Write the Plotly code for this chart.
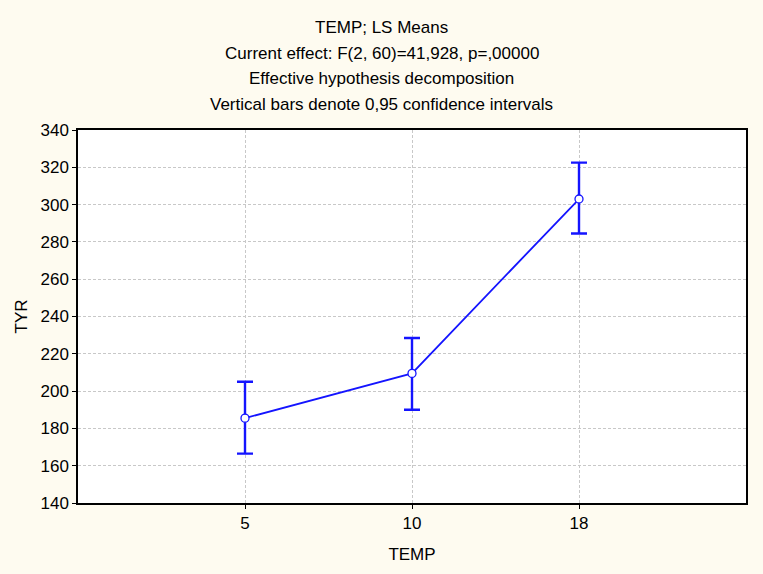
import plotly.graph_objects as go

categories = ["5", "10", "18"]
means = [185.5, 209.5, 303.0]
upper = [205.0, 228.5, 322.5]
lower = [166.5, 190.0, 284.5]
title_lines = [
    "TEMP; LS Means",
    "Current effect: F(2, 60)=41,928, p=,00000",
    "Effective hypothesis decomposition",
    "Vertical bars denote 0,95 confidence intervals",
]
y_ticks = [140, 160, 180, 200, 220, 240, 260, 280, 300, 320, 340]

xpos = list(range(1, len(categories) + 1))
err_plus = [u - m for u, m in zip(upper, means)]
err_minus = [m - l for m, l in zip(means, lower)]

blue = "#1414FF"
fig = go.Figure()
fig.add_trace(go.Scatter(
    x=xpos, y=means, mode="lines+markers",
    line=dict(color=blue, width=1.8),
    marker=dict(symbol="circle", size=8, color="white", line=dict(color=blue, width=1.3)),
    error_y=dict(type="data", symmetric=False, array=err_plus, arrayminus=err_minus,
                 color=blue, thickness=2.4, width=8),
    showlegend=False,
))

font = dict(family="Liberation Sans, Arial, sans-serif", size=17, color="#000000")
W, H = 763, 574
pl, pr, pt, pb = 78, 17, 130, 71
pw = W - pl - pr
ph = H - pt - pb
annotations = []
ys = [27, 53, 79, 105]
for txt, yy in zip(title_lines, ys):
    annotations.append(dict(text=txt, x=(W / 2 - pl) / pw, xref="paper",
                            y=(H - pb - yy) / ph, yref="paper",
                            showarrow=False, font=font, xanchor="center", yanchor="middle"))

grid = "#C8C8C8"
fig.update_layout(
    width=W, height=H,
    margin=dict(l=pl, r=pr, t=pt, b=pb),
    paper_bgcolor="#FEFBF0",
    plot_bgcolor="#FFFFFF",
    font=font,
    annotations=annotations,
    xaxis=dict(
        range=[0, len(categories) + 1], tickvals=xpos, ticktext=categories,
        showgrid=True, gridcolor=grid, griddash="3px,2px", gridwidth=1,
        showline=True, linecolor="black", linewidth=1.5, mirror=True,
        ticks="outside", ticklen=4, tickcolor="black", zeroline=False,
        title=dict(text="TEMP", font=font, standoff=16),
    ),
    yaxis=dict(
        range=[140, 340], tickvals=y_ticks,
        showgrid=True, gridcolor=grid, griddash="3px,2px", gridwidth=1,
        showline=True, linecolor="black", linewidth=1.5, mirror=True,
        ticks="outside", ticklen=4, tickcolor="black", zeroline=False,
        title=dict(text="TYR", font=font, standoff=9),
    ),
)
fig.write_html("out.html", config={"displayModeBar": False},
               post_script="document.body.style.margin='0';")
